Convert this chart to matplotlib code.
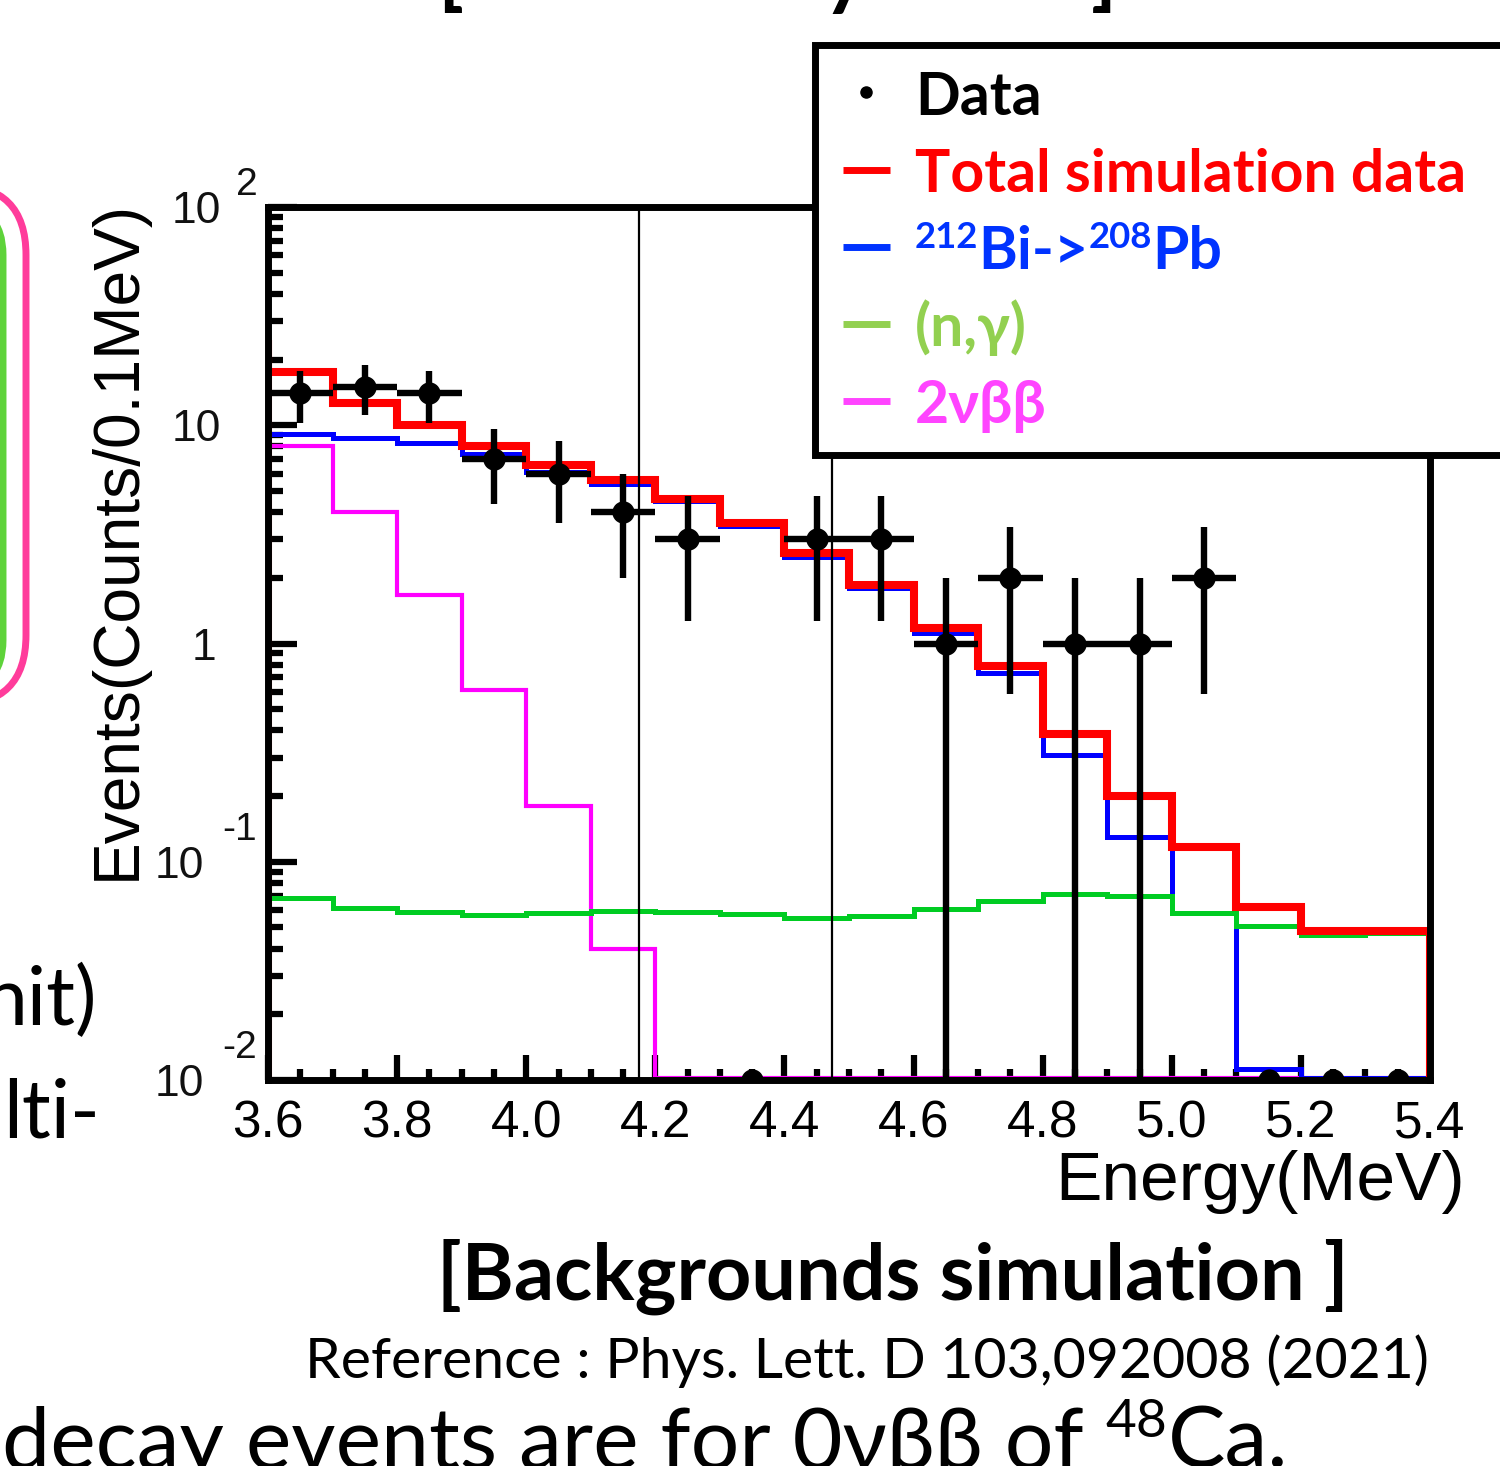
import numpy as np
import matplotlib
matplotlib.use("Agg")
import matplotlib.pyplot as plt
from matplotlib.patches import FancyBboxPatch, Rectangle
from matplotlib.lines import Line2D
from matplotlib.ticker import FixedLocator, MultipleLocator, LogLocator, NullFormatter
import matplotlib.transforms as mtransforms

# ---------------- data ----------------
bin_edges = [3.6, 3.7, 3.8, 3.9, 4.0, 4.1, 4.2, 4.3, 4.4, 4.5,
             4.6, 4.7, 4.8, 4.9, 5.0, 5.1, 5.2, 5.3, 5.4]
data_counts = [14, 15, 14, 7, 6, 4, 3, 0, 3, 3, 1, 2, 1, 1, 2, 0, 0, 0]
total_sim = [17.6, 12.6, 10.0, 8.0, 6.6, 5.6, 4.6, 3.55, 2.59, 1.86,
             1.18, 0.79, 0.386, 0.20, 0.117, 0.062, 0.048, 0.048]
total_left_edge = 24.5
bi212 = [9.1, 8.7, 8.3, 7.4, 6.1, 5.4, 4.5, 3.44, 2.48, 1.79,
         1.12, 0.73, 0.31, 0.13, 0.058, 0.0112, 0, 0]
n_gamma = [0.068, 0.0616, 0.059, 0.057, 0.058, 0.0596, 0.059, 0.0574, 0.0555, 0.0565,
           0.0607, 0.066, 0.0715, 0.070, 0.058, 0.051, 0.0464, 0.047]
two_nu_bb = [8.0, 4.0, 1.66, 0.61, 0.18, 0.040, 0, 0, 0, 0,
             0, 0, 0, 0, 0, 0, 0, 0]
roi_lines = [4.175, 4.473]
x_ticks = [3.6, 3.8, 4.0, 4.2, 4.4, 4.6, 4.8, 5.0, 5.2, 5.4]
x_tick_labels = ["3.6", "3.8", "4.0", "4.2", "4.4", "4.6", "4.8", "5.0", "5.2", "5.4"]
y_ticks = [0.01, 0.1, 1, 10, 100]
y_tick_base = ["10", "10", "1", "10", "10"]
y_tick_exp = ["-2", "-1", "", "", "2"]
legend_labels = ["Data", "Total simulation data", "Bi->Pb", "(n,γ)", "2νββ"]
legend_colors = ["#000000", "#FF0000", "#0033FF", "#92D050", "#FF44FF"]

# ---------------- figure ----------------
W, H = 1500, 1466
fig = plt.figure(figsize=(15, 14.66), dpi=100)
fig.patch.set_facecolor("white")
renderer = fig.canvas.get_renderer()

SLIDE = ["Lato", "Open Sans", "DejaVu Sans"]
ROOTF = ["Liberation Sans", "DejaVu Sans"]


def fx(x):
    return x / W


def fy(y):
    return 1 - y / H


def text_width(s, size, weight="normal", family=SLIDE):
    t = fig.text(0, 0, s, fontsize=size, fontweight=weight, family=family)
    w = t.get_window_extent(renderer).width
    t.remove()
    return w


def fit_size(s, width, weight="normal", family=SLIDE):
    return 50.0 * width / text_width(s, 50, weight, family)


def draw_runs(x, yb, runs, size, color, weight="normal", family=SLIDE,
              sup_scale=0.62, sup_rise=0.36, zorder=6):
    for s, sup in runs:
        fs = size * sup_scale if sup else size
        yy = yb - (size * sup_rise * 100 / 72 if sup else 0)
        t = fig.text(fx(x), fy(yy), s, fontsize=fs, fontweight=weight,
                     family=family, color=color, ha="left", va="baseline",
                     zorder=zorder)
        x += t.get_window_extent(renderer).width
    return x


def runs_width(runs, size, weight="normal", family=SLIDE, sup_scale=0.62):
    return sum(text_width(s, size * sup_scale if sup else size, weight, family)
               for s, sup in runs)


# ---------------- histogram axes ----------------
ax = fig.add_axes([fx(268), fy(1080), fx(1430) - fx(268), fy(207) - fy(1080)])
ax.set_yscale("log")
YMIN = 0.01
ax.set_xlim(bin_edges[0], bin_edges[-1])
ax.set_ylim(YMIN, 100)
edges = np.array(bin_edges)
ybase = 0.0102


def step_xy(vals, first_top=None):
    v = np.array(vals, float)
    v = np.where(v > 0, v, ybase)
    xs, ys = [edges[0]], [ybase]
    if first_top is not None:
        xs.append(edges[0]); ys.append(first_top)
    for i, val in enumerate(v):
        xs += [edges[i], edges[i + 1]]
        ys += [val, val]
    xs.append(edges[-1]); ys.append(ybase)
    return xs, ys


ax.plot(*step_xy(two_nu_bb), color="#FF00FF", lw=3.0, zorder=3, solid_joinstyle="miter")
ax.plot(*step_xy(bi212), color="#0000FF", lw=3.6, zorder=3.2, solid_joinstyle="miter")
ax.plot(*step_xy(n_gamma), color="#00CC22", lw=3.6, zorder=3.4, solid_joinstyle="miter")
ax.plot(*step_xy(total_sim, total_left_edge), color="#FF0000", lw=5.8, zorder=3.6,
        solid_joinstyle="miter")

centers = (edges[:-1] + edges[1:]) / 2
counts = np.array(data_counts, float)
nz = counts > 0
err = np.sqrt(counts)
lower = np.minimum(err, counts - ybase * 0.5)
ax.errorbar(centers[nz], counts[nz], yerr=[lower[nz], err[nz]], xerr=0.05,
            fmt="o", color="black", ms=15, elinewidth=4.6, capsize=0, zorder=5)
ax.plot(centers[~nz], np.full((~nz).sum(), YMIN), "o", color="black", ms=15,
        zorder=5, clip_on=True)

for xv in roi_lines:
    ax.axvline(xv, color="black", lw=1.6, zorder=6)

for s in ax.spines.values():
    s.set_linewidth(5)
    s.set_zorder(10)

ax.set_xticks(x_ticks)
ax.set_xticklabels(x_tick_labels, family=ROOTF, fontsize=37)
ax.xaxis.set_minor_locator(MultipleLocator(0.05))
ax.yaxis.set_major_locator(FixedLocator(y_ticks))
ax.yaxis.set_minor_locator(LogLocator(base=10, subs=np.arange(2, 10)))
ax.yaxis.set_minor_formatter(NullFormatter())
ax.set_yticklabels([])
ax.tick_params(axis="x", which="major", direction="in", length=18, width=4.5,
               pad=14, top=False, colors="black")
ax.tick_params(axis="x", which="minor", direction="in", length=8, width=4.5, top=False)
ax.tick_params(axis="y", which="major", direction="in", length=21, width=4.5,
               right=False, labelleft=False)
ax.tick_params(axis="y", which="minor", direction="in", length=11, width=4.5,
               right=False)
ax.set_axisbelow(False)

# y tick labels in ROOT style (base + raised exponent)
blend = mtransforms.blended_transform_factory(fig.transFigure, ax.transData)
for v, base, ex in zip(y_ticks, y_tick_base, y_tick_exp):
    right = 204 if ex.startswith("-") else 221
    if base == "1":
        right = 216
    fig.text(fx(right), v, base, transform=blend, ha="right", va="center_baseline",
             fontsize=32, family=ROOTF, color="#111111")
    if ex:
        neg = ex.startswith("-")
        left = 222 if neg else 236
        up = mtransforms.offset_copy(blend, fig=fig, y=(26 if neg else 19),
                                     units="points")
        fig.text(fx(left), v, ex, transform=up, ha="left", va="center_baseline",
                 fontsize=28, family=ROOTF, color="#111111")

# axis titles
ylab = "Events(Counts/0.1MeV)"
fig.text(fx(118), fy(540), ylab, rotation=90, ha="center", va="center",
         fontsize=fit_size(ylab, 680, family=ROOTF), family=ROOTF)
xlab = "Energy(MeV)"
fig.text(fx(1465), fy(1200), xlab, ha="right", va="baseline",
         fontsize=fit_size(xlab, 410, family=ROOTF), family=ROOTF)

# ---------------- legend box ----------------
fig.add_artist(Rectangle((fx(815), fy(455)), fx(1530) - fx(815), fy(45) - fy(455),
                         transform=fig.transFigure, facecolor="white",
                         edgecolor="black", lw=5, zorder=5))
leg_size = fit_size("Total simulation data", 552, weight="bold")
leg_base = [115, 192, 269, 346, 423]
fig.add_artist(Line2D([fx(866)], [fy(92)], marker="o", ms=8, color="black",
                      transform=fig.transFigure, zorder=6))
for yb, col in zip(leg_base[1:], legend_colors[1:]):
    fig.add_artist(Line2D([fx(843), fx(890)], [fy(yb - 22)] * 2, lw=5, color=col,
                          transform=fig.transFigure, zorder=6,
                          solid_capstyle="butt"))
for i, (lab, col, yb) in enumerate(zip(legend_labels, legend_colors, leg_base)):
    if lab == "Bi->Pb":
        draw_runs(915, yb, [("212", True), ("Bi->", False), ("208", True), ("Pb", False)],
                  leg_size, col, weight="bold")
    else:
        fig.text(fx(915), fy(yb), lab, fontsize=leg_size, fontweight="bold",
                 family=SLIDE, color=col, ha="left", va="baseline", zorder=6)

# ---------------- surrounding slide content ----------------
# partially visible title above the crop
for s, xpos in [("[", 437), ("y", 823), ("]", 1091)]:
    fig.text(fx(xpos), fy(0), s, fontsize=60, fontweight="bold", family=SLIDE,
             ha="left", va="baseline")

# rounded boxes at the left edge
pink = FancyBboxPatch((-80, H - 705), 106, 520,
                      boxstyle="round,pad=0,rounding_size=70",
                      transform=mtransforms.IdentityTransform(),
                      facecolor="none", edgecolor="#FF3C9B", lw=5)
green = FancyBboxPatch((-80, H - 690), 83, 485,
                       boxstyle="round,pad=0,rounding_size=50",
                       transform=mtransforms.IdentityTransform(),
                       facecolor="none", edgecolor="#5ED33A", lw=5)
fig.add_artist(pink)
fig.add_artist(green)

fig.text(fx(97), fy(1025), "nit)", fontsize=58, family=SLIDE, ha="right", va="baseline")
fig.text(fx(100), fy(1138), "lti-", fontsize=58, family=SLIDE, ha="right", va="baseline")

cap = "[Backgrounds simulation ]"
fig.text(fx(437), fy(1300), cap, fontsize=fit_size(cap, 913, weight="bold"),
         fontweight="bold", family=SLIDE, ha="left", va="baseline")
ref = "Reference : Phys. Lett. D 103,092008 (2021)"
fig.text(fx(305), fy(1378), ref, fontsize=fit_size(ref, 1125), family=SLIDE,
         ha="left", va="baseline")

bottom_runs = [("decay events are for 0νββ of ", False), ("48", True), ("Ca.", False)]
bsize = 50.0 * 1285 / runs_width(bottom_runs, 50)
draw_runs(2, 1468, bottom_runs, bsize, "black")

fig.savefig("out.png", dpi=100)
